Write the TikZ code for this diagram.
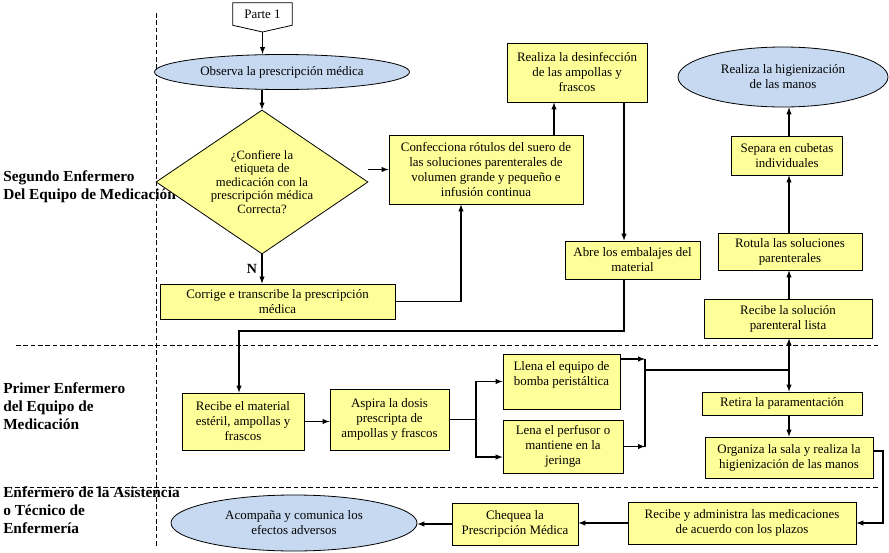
\documentclass[tikz,border=0pt]{standalone}
\usepackage{fontspec}
\setmainfont{Liberation Serif}
\usepackage{tikz}
\usetikzlibrary{shapes,arrows}
\definecolor{procyellow}{RGB}{255,255,153}
\definecolor{termblue}{RGB}{198,217,241}

\begin{document}
\begin{tikzpicture}[x=0.75pt,y=0.75pt,yscale=-1,xscale=1,
  proc/.style={draw, line width=0.6pt, fill=procyellow, align=center, inner sep=1pt, font=\fontsize{9.7}{11.25}\selectfont},
  term/.style={draw, line width=0.6pt, ellipse, fill=termblue, align=center, inner sep=0pt, font=\fontsize{9.7}{11.25}\selectfont},
  lane/.style={anchor=west, align=left, inner sep=0pt, font=\fontsize{11.5}{13.5}\selectfont\bfseries},
  swim/.style={line width=0.6pt, dash pattern=on 3.5pt off 2pt},
  conn/.style={-latex, line width=0.8pt}]
\useasboundingbox (0,0) rectangle (889,553);
%Swimlanes
\draw [swim] (156,13) -- (156,546) ;
\draw [swim] (16,345) -- (878,345) ;
\draw [swim] (15,487) -- (878,487) ;
% Text Node
\node [lane] (lane2) at (3,187) {Segundo Enfermero\\Del Equipo de Medicación};
% Text Node
\node [lane] (lane1) at (3,406) {Primer Enfermero\\del Equipo de\\Medicación};
% Text Node
\node [lane] (lane3) at (3,510) {Enfermero de la Asistencia\\o Técnico de\\Enfermería};
%Off-page connector
\node [inner sep=0pt, minimum width=44.25pt, minimum height=16.5pt, font=\fontsize{9.7}{11.25}\selectfont] (parte) at (262.5,14) {Parte 1};
\coordinate (ptip) at (262.5,32);
\draw [line width=0.6pt] (parte.north west) -- (parte.north east) -- (parte.south east) -- (ptip) -- (parte.south west) -- cycle ;
%Terminators
\node [term, minimum width=191.25pt, minimum height=26.25pt] (obs) at (282,72) {Observa la prescripción médica};
\node [term, minimum width=157.5pt, minimum height=45pt] (hig) at (783,77) {Realiza la higienización\\de las manos};
\node [term, minimum width=184.5pt, minimum height=42pt] (acomp) at (294,523) {Acompaña y comunica los\\efectos adversos};
%Decision
\node [draw, line width=0.6pt, diamond, fill=procyellow, aspect=1.47, inner sep=0pt, minimum width=159pt, minimum height=108pt, align=center, font=\fontsize{9.5}{10.1}\selectfont] (dia) at (262,182) {¿Confiere la\\etiqueta de\\medicación con la\\prescripción médica\\Correcta?};
%Processes
\node [proc, minimum width=145.5pt, minimum height=51.75pt] (conf) at (486,169.5) {Confecciona rótulos del suero de\\las soluciones parenterales de\\volumen grande y pequeño e\\infusión continua};
\node [proc, minimum width=176.25pt, minimum height=26.25pt] (corr) at (277.5,301.5) {Corrige e transcribe la prescripción\\médica};
\node [proc, minimum width=105pt, minimum height=44.25pt] (desinf) at (577,72.5) {Realiza la desinfección\\de las ampollas y\\frascos};
\node [proc, minimum width=101.25pt, minimum height=28.5pt] (abre) at (632.5,260) {Abre los embalajes del\\material};
\node [proc, minimum width=91.5pt, minimum height=42.75pt] (recmat) at (243,421.5) {Recibe el material\\estéril, ampollas y\\frascos};
\node [proc, minimum width=89.25pt, minimum height=45.75pt] (asp) at (389.5,419.5) {Aspira la dosis\\prescripta de\\ampollas y frascos};
\node [proc, minimum width=87.75pt, minimum height=41.25pt] (llena) at (561.5,381.5) {Llena el equipo de\\bomba peristáltica\\\mbox{}};
\node [proc, minimum width=90pt, minimum height=39.75pt] (lena) at (563,446.5) {Lena el perfusor o\\mantiene en la\\jeringa};
\node [proc, minimum width=126pt, minimum height=29.25pt] (recsol) at (788,318.5) {Recibe la solución\\parenteral lista};
\node [proc, minimum width=108pt, minimum height=27.75pt] (rotula) at (790,251.5) {Rotula las soluciones\\parenterales};
\node [proc, minimum width=83.25pt, minimum height=29.25pt] (separa) at (787,155.5) {Separa en cubetas\\individuales};
\node [proc, minimum width=120pt, minimum height=17.25pt] (retira) at (782,403.5) {Retira la paramentación};
\node [proc, minimum width=126pt, minimum height=30.75pt] (org) at (789,457.5) {Organiza la sala y realiza la\\higienización de las manos};
\node [proc, minimum width=171pt, minimum height=31.5pt] (recadm) at (742,523) {Recibe y administra las medicaciones\\de acuerdo con los plazos};
\node [proc, minimum width=94.5pt, minimum height=31.5pt] (cheq) at (515,524) {Chequea la\\Prescripción Médica};
%Bends
\coordinate (xcor) at (461,0);
\coordinate (xdes) at (554,0);
\coordinate (xabr) at (624,0);
\coordinate (xmat) at (239,0);
\coordinate (ybend) at (0,331);
\coordinate (fork) at (476,418);
\coordinate (yllena) at (0,359);
\coordinate (ylena) at (0,457);
\coordinate (merge) at (645,370);
\coordinate (junc) at (789,370);
\coordinate (yorg) at (0,451);
\coordinate (rside) at (883,523);
%Straight Lines
\draw [conn] (ptip) -- (ptip |- obs.north) ;
\draw [conn] (obs.south -| dia.north) -- (dia.north) ;
\draw [conn] (dia.east |- conf.west) -- (conf.west) ;
\draw [conn] (dia.south) -- node [left, font=\fontsize{10.5}{12}\selectfont\bfseries] {N} (dia.south |- corr.north) ;
\draw [conn] (corr.east) -| (xcor |- conf.south) ;
\draw [conn] (xdes |- conf.north) -- (xdes |- desinf.south) ;
\draw [conn] (xabr |- desinf.south) -- (xabr |- abre.north) ;
\draw [conn] (xabr |- abre.south) -- (xabr |- ybend) -| (xmat |- recmat.north) ;
\draw [conn] (recmat.east) -- (recmat.east -| asp.west) ;
\draw [line width=0.8pt] (asp.east) -- (asp.east -| fork) ;
\draw [conn] (asp.east -| fork) |- (llena.west) ;
\draw [conn] (asp.east -| fork) |- (ylena -| lena.west) ;
\draw [conn] (yllena -| llena.east) -- (yllena -| merge) ;
\draw [conn] (lena.east) -- (lena.east -| merge) ;
\draw [line width=0.8pt] (yllena -| merge) -- (lena.east -| merge) ;
\draw [line width=0.8pt] (merge) -- (junc) ;
\draw [conn] (junc) -- (junc |- recsol.south) ;
\draw [conn] (junc) -- (junc |- retira.north) ;
\draw [conn] (junc |- retira.south) -- (junc |- org.north) ;
\draw [conn] (junc |- recsol.north) -- (junc |- rotula.south) ;
\draw [conn] (junc |- rotula.north) -- (junc |- separa.south) ;
\draw [conn] (junc |- separa.north) -- (junc |- hig.south) ;
\draw [conn] (yorg -| org.east) -| (rside) -- (recadm.east) ;
\draw [conn] (recadm.west) -- (recadm.west -| cheq.east) ;
\draw [conn] (cheq.west) -- (cheq.west -| acomp.east) ;
\end{tikzpicture}
\end{document}
